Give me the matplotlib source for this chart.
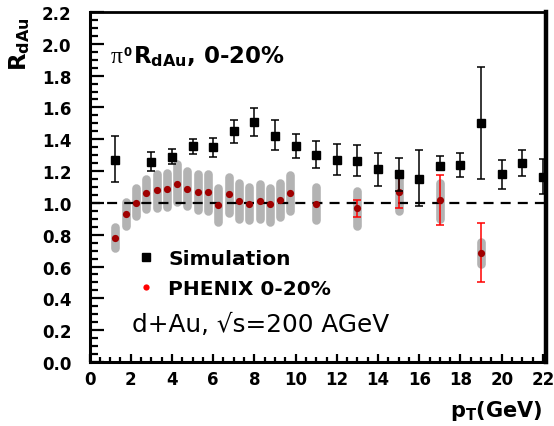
import numpy as np
import matplotlib
matplotlib.use("Agg")
import matplotlib.pyplot as plt
from matplotlib.lines import Line2D
from matplotlib.ticker import MultipleLocator

plt.rcParams['font.family'] = 'DejaVu Sans'
plt.rcParams['mathtext.fontset'] = 'custom'
plt.rcParams['mathtext.rm'] = 'DejaVu Sans'
plt.rcParams['mathtext.it'] = 'DejaVu Sans:italic'
plt.rcParams['mathtext.bf'] = 'DejaVu Sans:bold'

# simulation (black squares), value with lower / upper end of error bar
sim_x = [1.25, 3, 4, 5, 6, 7, 8, 9, 10, 11, 12, 13, 14, 15, 16, 17, 18, 19, 20, 21, 22]
sim_y = [1.27, 1.26, 1.29, 1.36, 1.35, 1.45, 1.51, 1.42, 1.36, 1.30, 1.27,
         1.265, 1.21, 1.18, 1.15, 1.23, 1.24, 1.50, 1.18, 1.25, 1.16]
sim_low = [1.13, 1.20, 1.245, 1.31, 1.29, 1.375, 1.42, 1.33, 1.28, 1.22, 1.175,
           1.17, 1.105, 1.075, 0.98, 1.205, 1.165, 1.15, 1.09, 1.17, 1.055]
sim_high = [1.42, 1.32, 1.34, 1.40, 1.41, 1.52, 1.595, 1.52, 1.43, 1.39, 1.37,
            1.365, 1.315, 1.285, 1.33, 1.295, 1.315, 1.855, 1.27, 1.335, 1.275]

# PHENIX 0-20% pi0 R_dAu
phx_x = [1.25, 1.75, 2.25, 2.75, 3.25, 3.75, 4.25, 4.75, 5.25, 5.75, 6.25, 6.75,
         7.25, 7.75, 8.25, 8.75, 9.25, 9.75, 11, 13, 15, 17, 19]
phx_y = [0.78, 0.93, 1.00, 1.06, 1.08, 1.09, 1.12, 1.09, 1.07, 1.07, 0.985, 1.055,
         1.01, 0.995, 1.01, 0.99, 1.02, 1.06, 0.995, 0.965, 1.07, 1.02, 0.685]
# systematic band (grey)
phx_sys_low = [0.69, 0.83, 0.89, 0.935, 0.94, 0.948, 0.98, 0.954, 0.926, 0.925, 0.855, 0.91,
               0.87, 0.864, 0.872, 0.853, 0.882, 0.92, 0.864, 0.83, 0.925, 0.872, 0.59]
phx_sys_high = [0.874, 1.03, 1.12, 1.18, 1.21, 1.218, 1.27, 1.23, 1.21, 1.21, 1.12, 1.19,
                1.15, 1.13, 1.147, 1.12, 1.155, 1.20, 1.13, 1.10, 1.197, 1.155, 0.784]
# statistical errors (red), only visible at high pT
phx_stat_x = [13, 15, 17, 19]
phx_stat_y = [0.965, 1.07, 1.02, 0.685]
phx_stat_low = [0.91, 0.968, 0.86, 0.50]
phx_stat_high = [1.02, 1.165, 1.176, 0.874]

fig = plt.figure(figsize=(5.54, 4.27), dpi=100)
ax = fig.add_axes([0.1616, 0.1499, 0.824, 0.8197])
ax.set_xlim(0, 22.15)
ax.set_ylim(0, 2.2)

# grey systematic bands with rounded ends
band_lw = 6.2
px_per_unit = 350 / 2.2
inset = (band_lw / 72 * 100 / 2) / px_per_unit
for x, lo, hi in zip(phx_x, phx_sys_low, phx_sys_high):
    ax.plot([x, x], [lo + inset, hi - inset], color='#b3b3b3', lw=band_lw,
            solid_capstyle='round', zorder=1)

ax.axhline(1.0, color='black', lw=1.6, ls=(0, (4.5, 3.2)), zorder=2)

sim_y_arr = np.array(sim_y)
ax.errorbar(sim_x, sim_y, yerr=[sim_y_arr - np.array(sim_low), np.array(sim_high) - sim_y_arr],
            fmt='s', color='black', ms=6, lw=1.1, capsize=3.2, capthick=1.1, zorder=4)

st_y = np.array(phx_stat_y)
ax.errorbar(phx_stat_x, phx_stat_y,
            yerr=[st_y - np.array(phx_stat_low), np.array(phx_stat_high) - st_y],
            fmt='none', ecolor='#ff0000', lw=1.1, capsize=3.2, capthick=1.1, zorder=3)
ax.plot(phx_x, phx_y, 'o', color='#a00000', ms=5.2, mec='none', zorder=3.5)

# axes styling
for side, w in [('left', 2.2), ('bottom', 2.2), ('top', 2.0), ('right', 3.2)]:
    ax.spines[side].set_linewidth(w)
ax.xaxis.set_major_locator(MultipleLocator(2))
ax.xaxis.set_minor_locator(MultipleLocator(0.5))
ax.yaxis.set_major_locator(MultipleLocator(0.2))
ax.yaxis.set_minor_locator(MultipleLocator(0.05))
ax.tick_params(axis='both', which='both', direction='in', top=False, right=False,
               width=1.6)
ax.tick_params(axis='y', which='major', length=10, pad=13)
ax.tick_params(axis='y', which='minor', length=6)
ax.tick_params(axis='x', which='major', length=6, pad=6)
ax.tick_params(axis='x', which='minor', length=3.5)
ax.set_yticks(np.arange(0, 2.21, 0.2))
ax.set_yticklabels(['%.1f' % v for v in np.arange(0, 2.21, 0.2)])
for lab in ax.get_xticklabels() + ax.get_yticklabels():
    lab.set_fontweight('bold')
    lab.set_fontsize(12)

ax.set_ylabel(r'$\mathbf{R_{dAu}}$', fontsize=16.5, rotation=90)
ax.yaxis.set_label_coords(-0.126, 0.911)
ax.set_xlabel(r'$\mathbf{p_T}$' + '(GeV)', fontsize=15, fontweight='bold')
ax.xaxis.set_label_coords(0.89, -0.103)

# pi0 R_dAu title built from pieces (serif pi, bold rest)
ax.text(0.047, 0.856, '\u03c0', family='Liberation Serif', fontsize=17,
        transform=ax.transAxes, va='baseline')
ax.text(0.0735, 0.877, '0', fontsize=8.5, fontweight='bold',
        transform=ax.transAxes, va='baseline')
ax.text(0.0945, 0.856, r'$\mathbf{R_{dAu}}$' + ', 0-20%',
        transform=ax.transAxes, fontsize=16.5, fontweight='bold', va='baseline')
ax.text(0.0925, 0.0886, 'd+Au, \u221as=200 AGeV', transform=ax.transAxes,
        fontsize=17.8, va='baseline')

handles = [Line2D([], [], ls='none', marker='s', color='black', ms=6),
           Line2D([], [], ls='none', marker='o', color='#ff0000', ms=4.5, mec='none')]
ax.legend(handles, ['Simulation', 'PHENIX 0-20%'], loc='upper left',
          bbox_to_anchor=(0.058, 0.375), frameon=False, handlelength=1.2,
          handletextpad=0.5, labelspacing=0.55,
          prop={'weight': 'bold', 'size': 14.5})

fig.savefig('out.png', dpi=100)
